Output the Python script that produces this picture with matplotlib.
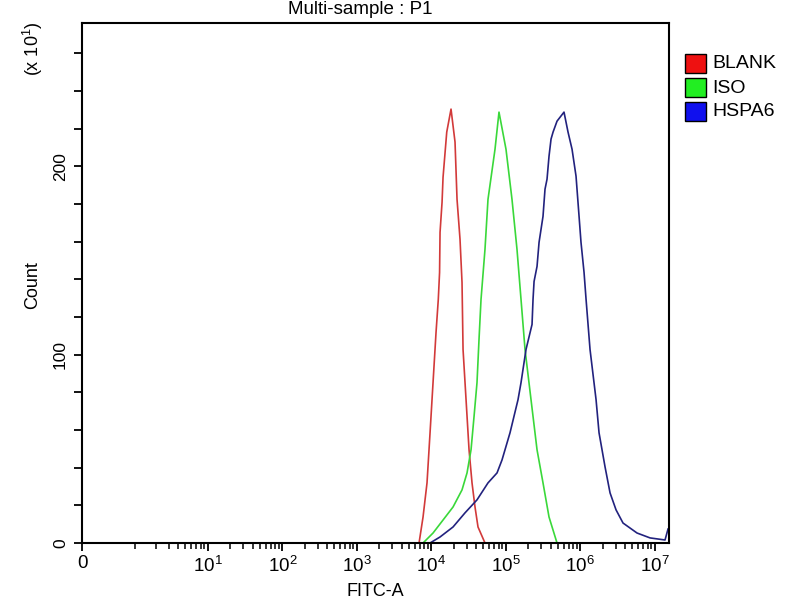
import numpy as np
import matplotlib
matplotlib.use("Agg")
import matplotlib.pyplot as plt
from matplotlib.patches import Rectangle

plt.rcParams['font.family'] = ['Liberation Sans', 'DejaVu Sans']
plt.rcParams['mathtext.fontset'] = 'custom'
plt.rcParams['mathtext.rm'] = 'Liberation Sans'
plt.rcParams['mathtext.it'] = 'Liberation Sans'

# ---------------- data (FITC-A value, count in units of x10^1) ----------------
series_names = ["BLANK", "ISO", "HSPA6"]

blank_x = [6840, 7740, 8750, 9610, 10540, 11560, 12400, 12900, 13090, 13930, 14360, 16100, 18380,
           20800, 22130, 24270, 25820, 26650, 29240, 32070, 35170, 38580, 42320, 52510]
blank_y = [0, 13.8, 31.9, 58.5, 85.1, 111.7, 129.3, 143.6, 164.9, 180.9, 194.1, 218.1, 230.3,
           212.8, 182.4, 161.2, 138.3, 102.7, 76.1, 49.5, 31.9, 19.1, 8.5, 0]

iso_x = [7740, 10540, 14360, 19550, 25820, 30140, 34120, 37410, 41020, 43650, 46450, 52510, 57620,
         71570, 80950, 100500, 121000, 141200, 159900, 181000, 217800, 262300, 315600, 380000, 486600]
iso_y = [0, 5.3, 12.2, 19.1, 28.2, 37.2, 49.5, 67.0, 85.1, 108.0, 129.3, 155.9, 182.4,
         209.0, 228.7, 209.0, 182.4, 155.9, 129.3, 102.7, 76.1, 49.5, 31.9, 13.8, 0]

hspa6_x = [9610, 13090, 19550, 28310, 41020, 57620, 76190, 88900, 113800, 145800, 159900, 186600,
           224800, 231800, 239300, 262300, 279300, 315600, 335700, 357300, 380000, 404500, 430500,
           486600, 603900, 683900, 774300, 875700, 961600, 1021000, 1122000, 1194000, 1350000,
           1626000, 1783000, 2147000, 2506000, 3015000, 3742000, 5768000, 8630000, 13710000, 15030000]
hspa6_y = [0, 3.2, 8.5, 16.0, 22.9, 31.9, 37.2, 44.1, 58.5, 76.1, 85.1, 102.7,
           116.0, 129.3, 138.8, 146.8, 159.6, 173.4, 187.8, 193.1, 205.3, 214.4, 218.1,
           223.9, 228.7, 218.1, 209.0, 194.7, 173.4, 159.6, 143.6, 129.3, 102.7,
           76.1, 58.5, 40.4, 26.6, 17.6, 10.6, 5.3, 2.7, 1.6, 7.4]

x_major = [0, 1e1, 1e2, 1e3, 1e4, 1e5, 1e6, 1e7]
x_major_labels = ["0", "$10^{1}$", "$10^{2}$", "$10^{3}$", "$10^{4}$", "$10^{5}$", "$10^{6}$", "$10^{7}$"]
y_major = [0, 100, 200]

line_colors = ["#d23a3a", "#3ad83a", "#22227e"]
legend_colors = ["#ee1111", "#22ee22", "#1010ee"]

# ---------------- figure ----------------
fig = plt.figure(figsize=(8, 6), dpi=100)
ax = fig.add_axes([82/800, 1-543/600, (669-82)/800, (543-23)/600])

C = 0.409
def fwd(x):
    return np.arcsinh(np.asarray(x, dtype=float) / C) / np.log(10)
def inv(y):
    return C * np.sinh(np.asarray(y, dtype=float) * np.log(10))

ax.set_xscale('function', functions=(fwd, inv))
ax.set_xlim(0, 1.55e7)
ax.set_ylim(0, 276)

for xs, ys, col in zip([blank_x, iso_x, hspa6_x], [blank_y, iso_y, hspa6_y], line_colors):
    ax.plot(xs, ys, color=col, lw=1.2)

ax.set_xticks(x_major)
ax.set_xticklabels(x_major_labels)
minors = [m * 10**k for k in range(0, 7) for m in range(2, 10)] + [1]
minors = [v for v in minors if v < 1.55e7]
ax.set_xticks(minors, minor=True)
ax.set_yticks(y_major)
ax.set_yticklabels([str(v) for v in y_major])
ax.set_yticks(np.arange(0, 276, 20), minor=True)

for s in ax.spines.values():
    s.set_linewidth(1.5)
    s.set_color('black')

ax.tick_params(axis='x', which='major', direction='out', length=6, width=1.3, labelsize=13.5, pad=3)
ax.tick_params(axis='x', which='minor', direction='out', length=4, width=1.1)
ax.tick_params(axis='y', which='both', direction='out', length=6, width=1.3, labelsize=12.5, pad=4)
for lab in ax.get_yticklabels():
    lab.set_rotation(90)
    lab.set_va('center')

fig.text(33/800, 1-285/600, "Count", rotation=90, ha='center', va='center', fontsize=13)
fig.text(33/800, 1-49/600, "(x 10$^{1}$)", rotation=90, ha='center', va='center', fontsize=13)
fig.text(375/800, 1-592/600, "FITC-A", ha='center', va='center', fontsize=13)
fig.text(360/800, 1-1/600, "Multi-sample : P1", ha='center', va='top', fontsize=13.5)

# legend
for i, (name, col) in enumerate(zip(series_names, legend_colors)):
    top = 54 + i * 24
    fig.patches.append(Rectangle((685/800, 1-(top+19)/600), 21/800, 19/600,
                                 transform=fig.transFigure, facecolor=col,
                                 edgecolor='black', lw=1.0))
    fig.text(712/800, 1-(top+10)/600, name, ha='left', va='center', fontsize=14)

fig.savefig("out.png", dpi=100)
